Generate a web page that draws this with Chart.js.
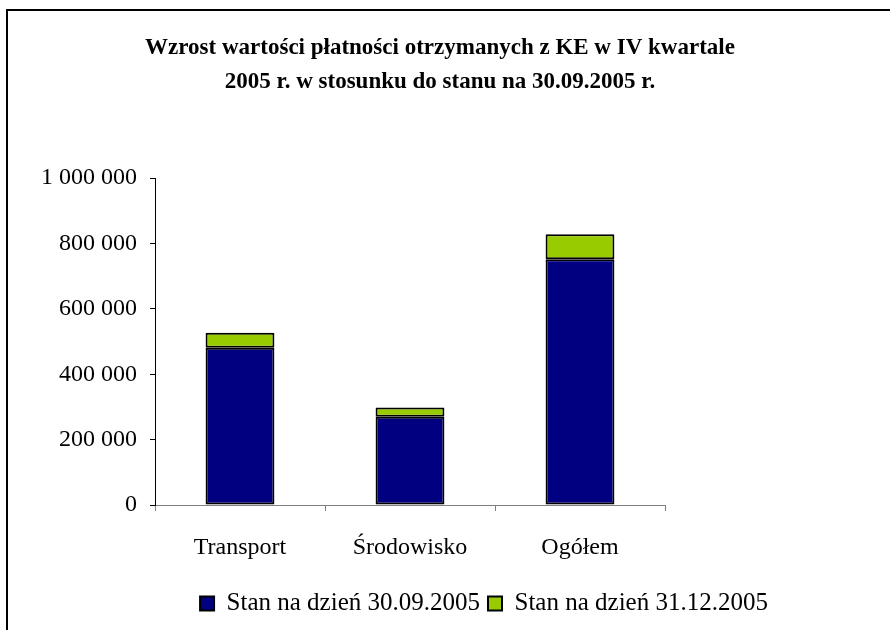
<!DOCTYPE html>
<html>
<head>
<meta charset="utf-8">
<script src="https://cdn.jsdelivr.net/npm/chart.js@4"></script>
<style>
  body { margin: 0; background: #fff; }
  #frame { position: absolute; left: 6px; top: 9px; width: 884px; height: 621px;
           border-top: 2px solid #000; border-left: 2px solid #000; }
  #wrap { position: absolute; left: 0; top: 0; width: 890px; height: 630px; }
</style>
</head>
<body>
<div id="frame"></div>
<div id="wrap"><canvas id="chart"></canvas></div>
<script>
const categories = ['Transport', 'Środowisko', 'Ogółem'];
const stan0930 = [481000, 270000, 752000];
const przyrost1231 = [46000, 28000, 76000];
const seriesLabels = ['Stan na dzień 30.09.2005', 'Stan na dzień 31.12.2005'];
const yTicks = [0, 200000, 400000, 600000, 800000, 1000000];
const titleLines = ['Wzrost wartości płatności otrzymanych z KE w IV kwartale',
                    '2005 r. w stosunku do stanu na 30.09.2005 r.'];

const serif = 'Liberation Serif, Times New Roman, serif';

function fmt(v) {
  return String(v).replace(/\B(?=(\d{3})+(?!\d))/g, ' ');
}

// title and legend are centred differently from the plot in the original
const shiftBoxes = {
  id: 'shiftBoxes',
  afterLayout(chart) {
    const t = chart.titleBlock, l = chart.legend;
    const dt = 440 - (t.left + t.right) / 2;
    t.left += dt; t.right += dt;
    const dl = 484 - (l.left + l.right) / 2;
    l.left += dl; l.right += dl;
  }
};

const ctx = document.getElementById('chart').getContext('2d');
new Chart(ctx, {
  type: 'bar',
  data: {
    labels: categories,
    datasets: [{
      label: seriesLabels[0],
      data: stan0930,
      backgroundColor: '#000080',
      borderColor: '#000',
      borderWidth: 2,
      borderSkipped: false
    }, {
      label: seriesLabels[1],
      data: przyrost1231,
      backgroundColor: '#99CC00',
      borderColor: '#000',
      borderWidth: 2,
      borderSkipped: false
    }]
  },
  options: {
    responsive: true,
    maintainAspectRatio: false,
    animation: false,
    datasets: { bar: { barPercentage: 0.405, categoryPercentage: 1.0 } },
    layout: { padding: { left: 5, right: 225, top: 10, bottom: 4 } },
    plugins: {
      title: {
        display: true,
        text: titleLines,
        color: '#000',
        font: { family: serif, size: 23, weight: 'bold', lineHeight: 1.48 },
        padding: { top: 21, bottom: 79 }
      },
      legend: {
        position: 'bottom',
        labels: {
          color: '#000',
          font: { family: serif, size: 25 },
          boxWidth: 14,
          boxHeight: 14,
          padding: 8
        }
      },
      tooltip: { enabled: false }
    },
    scales: {
      x: {
        stacked: true,
        afterFit(scale) { scale.height = 78; },
        border: { color: '#808080', width: 1 },
        grid: { drawOnChartArea: false, tickLength: 6, color: '#808080' },
        ticks: { color: '#000', font: { family: serif, size: 24 }, padding: 22 }
      },
      y: {
        stacked: true,
        min: 0,
        max: 1000000,
        afterFit(scale) { scale.width = 150; },
        afterBuildTicks(scale) { scale.ticks = yTicks.map(v => ({ value: v })); },
        border: { color: '#000', width: 1 },
        grid: { drawOnChartArea: false, tickLength: 5, color: '#000' },
        ticks: { color: '#000', font: { family: serif, size: 24 }, padding: 13,
                 callback: v => fmt(v) }
      }
    }
  },
  plugins: [shiftBoxes]
});
</script>
</body>
</html>
